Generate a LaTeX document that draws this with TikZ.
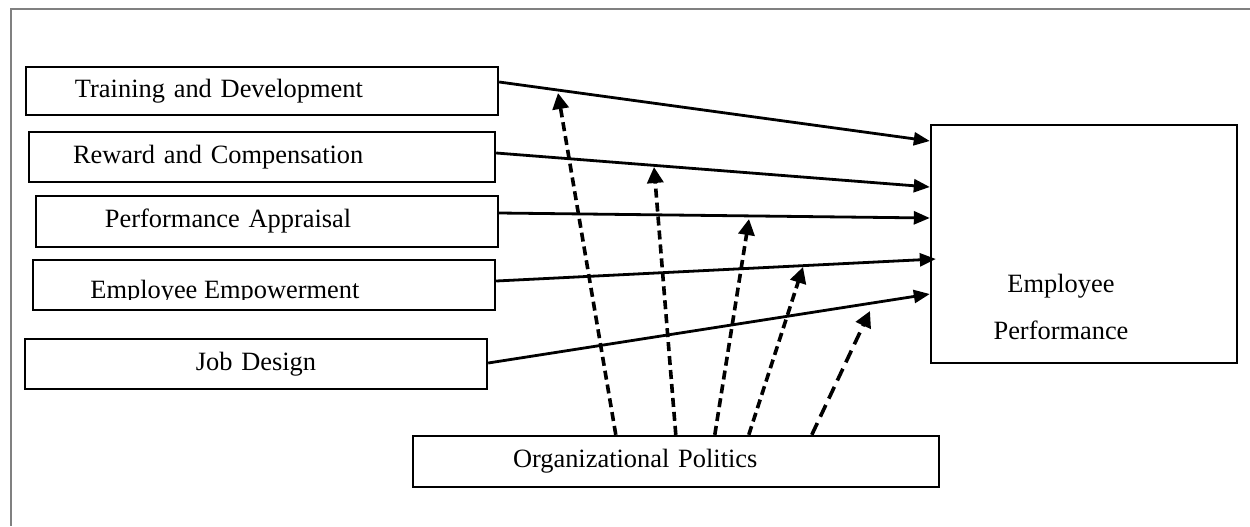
\documentclass[tikz,border=0pt]{standalone}
\usepackage{fontspec}
\setmainfont{Liberation Serif}
\usetikzlibrary{arrows.meta}
\definecolor{framegray}{RGB}{128,128,128}

\begin{document}
\begin{tikzpicture}[
  x=0.5pt,y=-0.5pt,
  factor/.style={draw,line width=1.2pt,inner xsep=0pt,inner ysep=0pt,align=left,font=\fontsize{13.2}{16}\selectfont},
  arr/.style={-{Triangle[length=8pt,width=6.5pt]},line width=1.4pt},
  mod/.style={-{Triangle[length=8pt,width=8pt]},line width=1.8pt,dash pattern=on 4.5pt off 2.5pt}
]
\useasboundingbox (0,0) rectangle (1250,526);
\draw[framegray,line width=0.75pt] (1250,9) -- (11,9) -- (11,526);

% independent variables
\node[factor,text width=236pt,minimum height=24pt] (td) at (262,91) {\hspace*{24.5pt}Training and Development};
\node[factor,text width=233pt,minimum height=25pt] (rc) at (262,157) {\hspace*{22pt}Reward and Compensation};
\node[factor,text width=231pt,minimum height=25.5pt] (pa) at (267,221.5) {\hspace*{34.5pt}Performance Appraisal};
\node[factor,text width=231pt,minimum height=25pt] (ee) at (264,285) {};
\begin{scope}
  \clip (ee.north west) rectangle ([yshift=6pt]ee.south east);
  \node[anchor=base west,inner sep=0pt,font=\fontsize{13.2}{16}\selectfont] (eetext) at (90,298.5) {Employee Empowerment};
\end{scope}
\node[factor,text width=231pt,align=center,minimum height=25pt] (jd) at (256,364) {Job Design};

% dependent variable and moderator
\node[factor,minimum width=153pt,minimum height=119pt] (ep) at (1084,244) {};
\node[align=center,font=\fontsize{13.2}{16}\selectfont] (eptext) at (1061,307) {Employee\\[7.5pt]Performance};
\node[factor,text width=263pt,minimum height=25.5pt] (org) at (676,461.5) {\hspace*{50pt}Organizational Politics};

\draw[arr] ([yshift=4.5pt]td.east) -- ([yshift=51.5pt]ep.west);
\draw[arr] ([yshift=2pt]rc.east) -- ([yshift=28.5pt]ep.west);
\draw[arr] ([yshift=4.25pt]pa.east) -- ([yshift=13pt]ep.west);
\draw[arr] ([yshift=2pt]ee.east) -- ([xshift=3pt,yshift=-7.5pt]ep.west);
\draw[arr] ([yshift=0.5pt]jd.east) -- ([yshift=-25pt]ep.west);

% moderating effects
\coordinate (m1) at (558,93);
\coordinate (m2) at (654,167);
\coordinate (m3) at (749,219);
\coordinate (m4) at (803,267);
\coordinate (m5) at (870,311);
\draw[mod] ([xshift=102pt]org.north west) -- (m1);
\draw[mod] ([xshift=132pt]org.north west) -- (m2);
\draw[mod] ([xshift=151.5pt]org.north west) -- (m3);
\draw[mod] ([xshift=168.5pt]org.north west) -- (m4);
\draw[mod,dash pattern=on 6.5pt off 3.5pt] ([xshift=200pt]org.north west) -- (m5);

\end{tikzpicture}
\end{document}
